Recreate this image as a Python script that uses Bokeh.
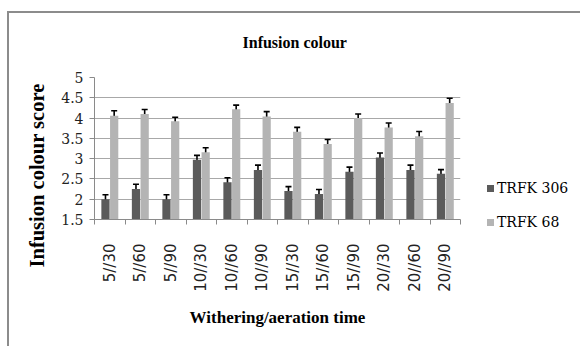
import numpy as np
from bokeh.plotting import figure
from bokeh.layouts import row
from bokeh.models import (ColumnDataSource, Range1d, FixedTicker, Whisker, TeeHead,
                          Title, Div, InlineStyleSheet)
from bokeh.embed import file_html
from bokeh.resources import INLINE

# ---- data ----
categories = ["5//30", "5//60", "5//90", "10//30", "10//60", "10//90",
              "15//30", "15//60", "15//90", "20//30", "20//60", "20//90"]
trfk306 = [2.00, 2.25, 2.00, 2.97, 2.42, 2.72, 2.20, 2.13, 2.68, 3.03, 2.72, 2.63]
trfk68 = [4.06, 4.10, 3.92, 3.16, 4.22, 4.04, 3.66, 3.36, 4.00, 3.77, 3.55, 4.37]
err306 = [0.11, 0.12, 0.11, 0.11, 0.11, 0.12, 0.11, 0.11, 0.11, 0.11, 0.12, 0.10]
err68 = [0.12, 0.11, 0.10, 0.11, 0.10, 0.12, 0.11, 0.11, 0.10, 0.11, 0.12, 0.12]
series_names = ["TRFK 306", "TRFK 68"]
y_ticks = [1.5, 2, 2.5, 3, 3.5, 4, 4.5, 5]

DARK = "#5b5b5b"
LIGHT = "#b4b4b4"
SERIF = "Liberation Serif"
SERIF_REG = "DejaVu Serif"
H = 330

n = len(categories)
centers = np.arange(n) + 0.5
bounds = list(np.arange(n + 1))
y0 = y_ticks[0]

p = figure(width=461, height=H, output_backend="svg", toolbar_location=None,
           x_range=Range1d(0, n), y_range=Range1d(y_ticks[0], y_ticks[-1]),
           min_border_left=85, min_border_right=10, min_border_top=64,
           min_border_bottom=124)
p.outline_line_color = None
p.background_fill_color = "white"
p.border_fill_color = "white"

# title
p.title.text = "Infusion colour"
p.title.align = "left"
p.title.offset = 148
p.title.standoff = 10
p.title.padding = (0, 0, 0, 22)
p.title.text_font = SERIF
p.title.text_font_style = "bold"
p.title.text_font_size = "16px"
p.title.text_color = "black"

x1 = centers - 0.14
x2 = centers + 0.145
src = ColumnDataSource(dict(x1=x1, x2=x2, a=trfk306, b=trfk68,
                            a_lo=np.array(trfk306) - np.array(err306),
                            a_hi=np.array(trfk306) + np.array(err306),
                            b_lo=np.array(trfk68) - np.array(err68),
                            b_hi=np.array(trfk68) + np.array(err68)))

r1 = p.vbar(x="x1", top="a", bottom=y0, width=0.27, source=src,
            fill_color=DARK, line_color=None)
r2 = p.vbar(x="x2", top="b", bottom=y0, width=0.27, source=src,
            fill_color=LIGHT, line_color=None)

for base, lo, hi in (("x1", "a_lo", "a_hi"), ("x2", "b_lo", "b_hi")):
    w = Whisker(base=base, lower=lo, upper=hi, source=src, dimension="height",
                line_color="black", line_width=1.6,
                upper_head=TeeHead(size=6, line_color="black", line_width=1.6),
                lower_head=TeeHead(size=6, line_color="black", line_width=1.6))
    p.add_layout(w)

# x axis: labels at centres, small ticks at category boundaries
xt = FixedTicker(ticks=list(centers), minor_ticks=bounds)
p.xaxis.ticker = xt
p.xaxis.major_label_overrides = {float(c): lab for c, lab in zip(centers, categories)}
p.xaxis.major_label_orientation = np.pi / 2
p.xaxis.major_tick_out = 0
p.xaxis.major_tick_in = 0
p.xaxis.minor_tick_out = 5
p.xaxis.minor_tick_in = 0
p.xaxis.minor_tick_line_color = "#8a8a8a"
p.xaxis.axis_line_color = "#8a8a8a"
p.xaxis.major_label_standoff = 19
p.xaxis.major_label_text_font = "DejaVu Sans"
p.xaxis.major_label_text_font_size = "15px"
p.xaxis.major_label_text_color = "#222222"
p.xaxis.axis_label = "Withering/aeration time"
p.xaxis.axis_label_text_font = SERIF
p.xaxis.axis_label_text_font_style = "bold"
p.xaxis.axis_label_text_font_size = "17px"
p.xaxis.axis_label_text_color = "black"
p.xaxis.axis_label_standoff = 13

p.yaxis.ticker = FixedTicker(ticks=y_ticks)
p.yaxis.major_tick_out = 5
p.yaxis.major_tick_in = 0
p.yaxis.minor_tick_line_color = None
p.yaxis.axis_line_color = "#8a8a8a"
p.yaxis.major_tick_line_color = "#8a8a8a"
p.yaxis.major_label_standoff = 6
p.yaxis.major_label_text_font = SERIF_REG
p.yaxis.major_label_text_font_size = "14px"
p.yaxis.major_label_text_color = "#222222"
p.yaxis.major_label_overrides = {1.5: "1.5", 2: "2", 2.5: "2.5", 3: "3",
                                 3.5: "3.5", 4: "4", 4.5: "4.5", 5: "5"}

p.xgrid.grid_line_color = None
p.ygrid.grid_line_color = "#a8a8a8"
p.ygrid.grid_line_width = 1

# y-axis title as a side title (positioned along the axis like the reference)
ytitle = Title(text="Infusion colour score", align="left", offset=-48, standoff=22,
               text_font=SERIF, text_font_style="bold", text_font_size="20.5px",
               text_color="black")
p.add_layout(ytitle, "left")

# legend to the right of the plot area
colors = [DARK, LIGHT]
items_html = ""
for i, (name, col) in enumerate(zip(series_names, colors)):
    items_html += (
        f'<div class="lg-item" style="position:absolute;left:12px;top:{160 + 34 * i}px;'
        f'height:20px;line-height:20px;white-space:nowrap;">'
        f'<span class="lg-key" style="display:inline-block;width:7px;height:7px;'
        f'background:{col};margin-right:3px;vertical-align:middle;position:relative;'
        f'top:-1px;"></span>'
        f'<span class="lg-text">{name}</span></div>'
    )
legend_css = InlineStyleSheet(css=(
    ":host, div, span, .lg-item, .lg-text { font-family: 'DejaVu Serif', "
    "serif !important; font-size: 14px !important; color: #000; }"
))
legend_div = Div(text=(f'<div style="position:relative;width:107px;height:{H}px;">'
                       f'{items_html}</div>'),
                 width=107, height=H, stylesheets=[legend_css],
                 styles={"font-family": "'DejaVu Serif', serif", "font-size": "14px"})

layout = row(p, legend_div)
layout.styles = {"margin-left": "7px", "margin-top": "11px",
                 "border-top": "2px solid #8c8c8c", "border-left": "2px solid #8c8c8c"}

open("out.html", "w").write(file_html(layout, INLINE))
